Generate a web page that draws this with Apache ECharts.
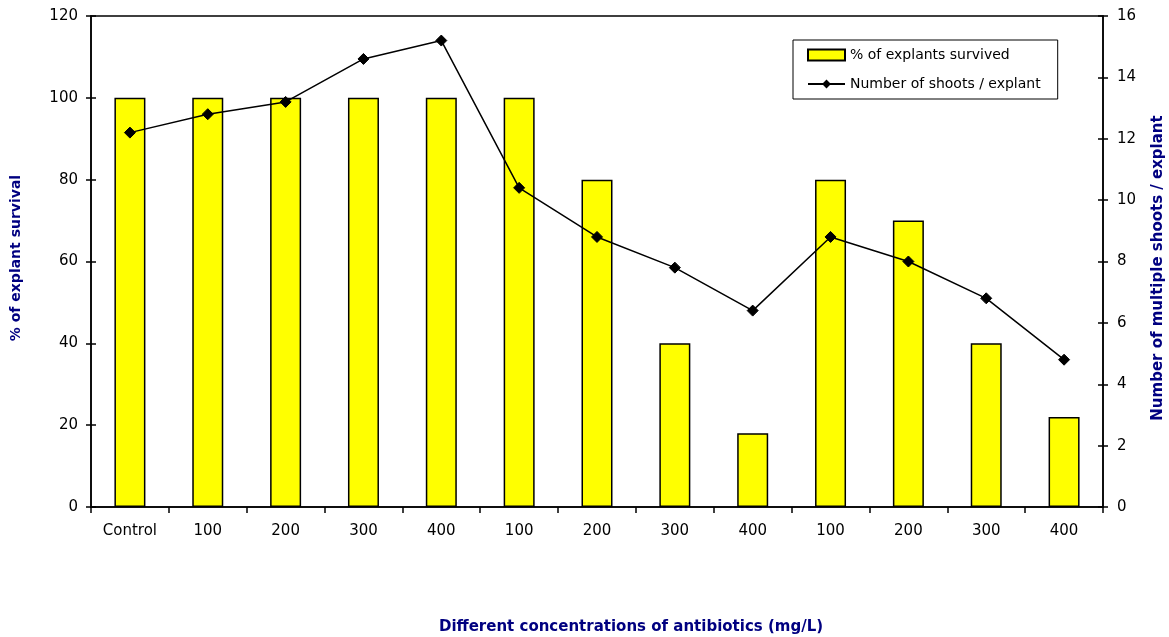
<!DOCTYPE html>
<html>
<head>
<meta charset="utf-8">
<script src="https://cdn.jsdelivr.net/npm/echarts@6/dist/echarts.min.js"></script>
<style>
  html, body { margin: 0; padding: 0; background: #fff; }
  #chart { width: 1169px; height: 637px; }
</style>
</head>
<body>
<div id="chart"></div>
<script>
// Antibiotic concentration groups (mg/L)
const categories = ['Control', '100', '200', '300', '400', '100', '200', '300', '400', '100', '200', '300', '400'];
// % of explants survived (left axis)
const survival = [100, 100, 100, 100, 100, 100, 80, 40, 18, 80, 70, 40, 22];
// Number of shoots per explant (right axis)
const shoots = [12.2, 12.8, 13.2, 14.6, 15.2, 10.4, 8.8, 7.8, 6.4, 8.8, 8.0, 6.8, 4.8];

const FONT = 'DejaVu Sans, Verdana, sans-serif';
const NAVY = '#000080';

const chart = echarts.init(document.getElementById('chart'), null, { renderer: 'canvas' });

const tickLabel = { color: '#000', fontFamily: FONT, fontSize: 15 };

chart.setOption({
  animation: false,
  backgroundColor: '#fff',
  grid: {
    left: 91, right: 66, top: 16, bottom: 130,
    show: true, borderColor: '#000', borderWidth: 1.5, backgroundColor: 'transparent'
  },
  legend: {
    orient: 'vertical',
    left: 793, top: 40,
    padding: [8, 17, 8, 14],
    itemGap: 15,
    itemWidth: 37, itemHeight: 11,
    borderColor: '#000', borderWidth: 1,
    textStyle: { color: '#000', fontFamily: FONT, fontSize: 14 },
    data: [
      { name: '% of explants survived', icon: 'rect' },
      { name: 'Number of shoots / explant' }
    ]
  },
  xAxis: {
    type: 'category',
    data: categories,
    boundaryGap: true,
    axisLine: { lineStyle: { color: '#000', width: 1.5 } },
    axisTick: { show: true, length: 6, alignWithLabel: false, lineStyle: { color: '#000', width: 1.5 } },
    axisLabel: Object.assign({ margin: 17, interval: 0 }, tickLabel),
    splitLine: { show: false }
  },
  yAxis: [
    {
      type: 'value', position: 'left', min: 0, max: 120, interval: 20,
      axisLine: { show: true, lineStyle: { color: '#000', width: 1.5 } },
      axisTick: { show: true, length: 5, lineStyle: { color: '#000', width: 1.5 } },
      axisLabel: Object.assign({ margin: 13 }, tickLabel),
      splitLine: { show: false }
    },
    {
      type: 'value', position: 'right', min: 0, max: 16, interval: 2,
      axisLine: { show: true, lineStyle: { color: '#000', width: 1.5 } },
      axisTick: { show: true, length: 5, lineStyle: { color: '#000', width: 1.5 } },
      axisLabel: Object.assign({ margin: 14 }, tickLabel),
      splitLine: { show: false }
    },
    // inner halves of the crossing tick marks
    {
      type: 'value', position: 'left', min: 0, max: 120, interval: 20,
      axisLine: { show: false },
      axisTick: { show: true, inside: true, length: 5, lineStyle: { color: '#000', width: 1.5 } },
      axisLabel: { show: false }, splitLine: { show: false }
    },
    {
      type: 'value', position: 'right', min: 0, max: 16, interval: 2,
      axisLine: { show: false },
      axisTick: { show: true, inside: true, length: 5, lineStyle: { color: '#000', width: 1.5 } },
      axisLabel: { show: false }, splitLine: { show: false }
    }
  ],
  graphic: [
    {
      type: 'text', x: 631, y: 627,
      style: {
        text: 'Different concentrations of antibiotics (mg/L)',
        fill: NAVY, font: 'bold 15px ' + FONT, align: 'center', verticalAlign: 'middle'
      }
    },
    {
      type: 'text', x: 16, y: 258, rotation: Math.PI / 2,
      style: {
        text: '% of explant survival',
        fill: NAVY, font: 'bold 14px ' + FONT, align: 'center', verticalAlign: 'middle'
      }
    },
    {
      type: 'text', x: 1158, y: 268, rotation: Math.PI / 2,
      style: {
        text: 'Number of multiple shoots / explant',
        fill: NAVY, font: 'bold 15px ' + FONT, align: 'center', verticalAlign: 'middle'
      }
    }
  ],
  series: [
    {
      name: '% of explants survived',
      type: 'bar',
      yAxisIndex: 0,
      data: survival,
      barWidth: 31,
      itemStyle: { color: '#FFFF00', borderColor: '#000', borderWidth: 1.5 }
    },
    {
      name: 'Number of shoots / explant',
      type: 'line',
      yAxisIndex: 1,
      data: shoots,
      symbol: 'diamond',
      symbolSize: 11,
      showAllSymbol: true,
      lineStyle: { color: '#000', width: 1.5 },
      itemStyle: { color: '#000', borderColor: '#000' },
      z: 5
    }
  ]
});
</script>
</body>
</html>
